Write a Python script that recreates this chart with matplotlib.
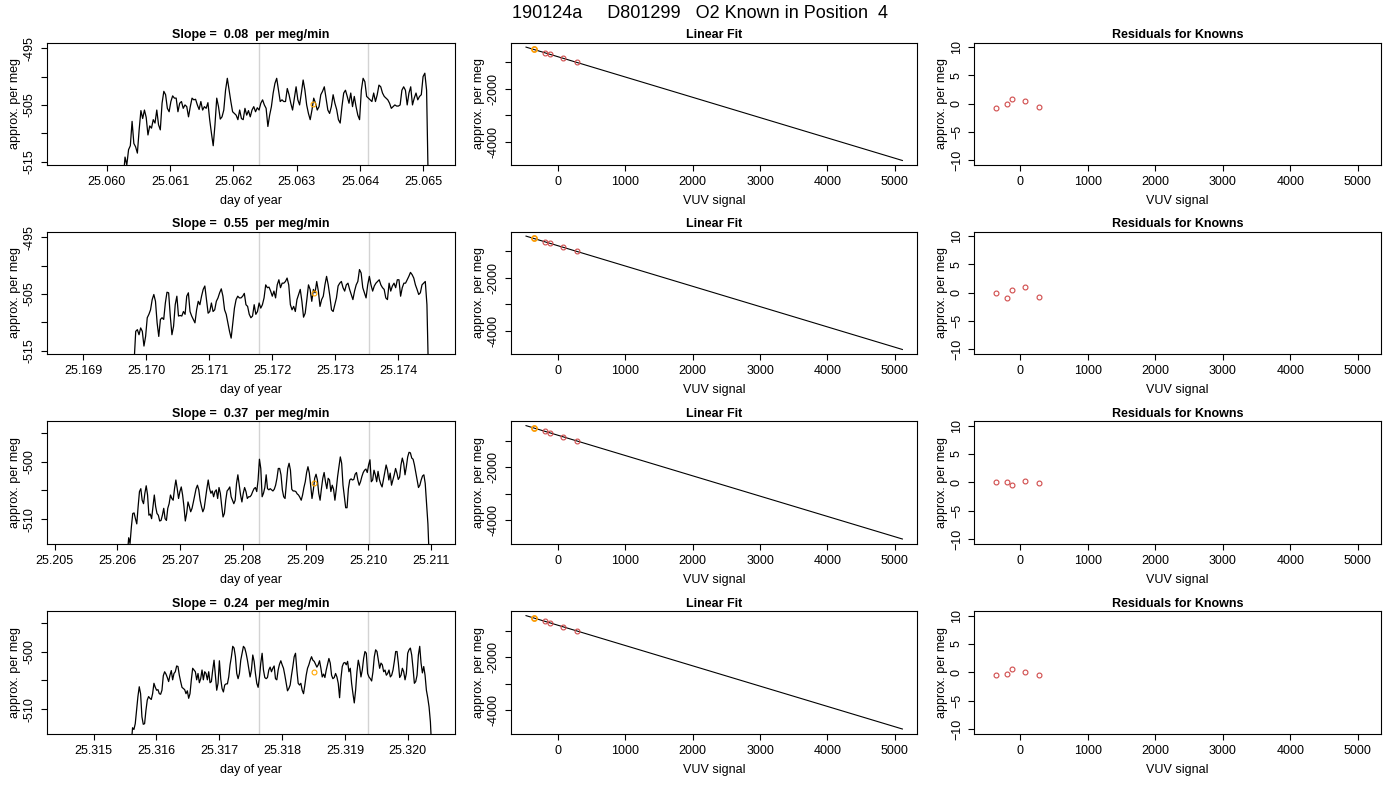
import numpy as np
import matplotlib
matplotlib.use("Agg")
import matplotlib.pyplot as plt

plt.rcParams['font.family'] = ['Liberation Sans', 'DejaVu Sans']
plt.rcParams['font.size'] = 9

main_title = "190124a     D801299   O2 Known in Position  4"
slopes = ["0.08", "0.55", "0.37", "0.24"]

# time series (approx. per meg)
ts1 = [-518.0, -514.2, -515.6, -512.9, -512.2, -507.9, -511.8, -512.4, -513.5, -509.4,
       -506.0, -507.4, -505.9, -507.2, -510.3, -508.7, -509.1, -507.6, -508.2, -505.9,
       -508.5, -509.4, -504.7, -502.6, -503.2, -505.6, -506.2, -504.4, -503.4, -503.8,
       -503.8, -506.2, -504.7, -504.4, -505.6, -505.0, -505.3, -507.1, -505.3, -503.8,
       -504.1, -504.0, -505.0, -505.8, -504.4, -505.9, -505.3, -505.6, -504.6, -507.6,
       -510.0, -512.2, -508.5, -503.8, -505.3, -507.5, -507.1, -505.9, -502.4, -500.3,
       -502.4, -504.4, -506.2, -506.5, -506.8, -507.6, -505.9, -507.4, -507.6, -505.6,
       -506.8, -506.0, -507.1, -505.9, -505.3, -506.2, -505.5, -505.9, -504.7, -504.1,
       -505.0, -505.6, -508.8, -506.8, -505.3, -502.9, -501.2, -500.3, -502.4, -504.4,
       -504.1, -504.4, -504.4, -502.1, -503.2, -504.7, -505.9, -503.8, -501.8, -504.1,
       -505.0, -502.9, -500.6, -502.4, -505.0, -506.5, -507.6, -505.9, -503.8, -504.7,
       -505.9, -505.3, -503.2, -502.6, -501.8, -503.8, -505.9, -506.5, -505.3, -503.2,
       -504.7, -505.8, -507.6, -508.2, -505.3, -502.9, -502.4, -503.5, -504.7, -502.9,
       -505.3, -503.5, -505.3, -506.8, -507.6, -502.4, -500.3, -500.9, -503.5, -503.8,
       -504.1, -504.4, -502.9, -504.4, -503.2, -501.5, -501.8, -502.9, -503.5, -503.8,
       -504.1, -504.7, -505.6, -505.3, -505.0, -505.2, -505.2, -505.0, -502.4, -501.8,
       -502.4, -505.0, -502.9, -501.8, -505.0, -503.8, -502.9, -504.1, -503.5, -503.2,
       -500.0, -499.4, -502.4, -520.0]

ts2 = [-517.0, -511.6, -511.3, -512.2, -511.0, -511.6, -514.2, -512.5, -509.2, -508.6,
       -507.8, -506.0, -505.1, -506.3, -510.1, -512.5, -509.5, -509.2, -509.5, -506.6,
       -504.7, -504.8, -508.9, -512.2, -510.7, -506.9, -505.4, -508.9, -508.8, -508.9,
       -508.1, -508.6, -505.4, -504.8, -508.1, -508.9, -509.5, -510.1, -507.8, -506.3,
       -506.9, -505.4, -504.2, -503.6, -506.0, -508.4, -508.1, -506.6, -508.1, -507.8,
       -506.3, -505.7, -504.8, -504.1, -505.4, -507.8, -508.6, -510.1, -511.6, -512.8,
       -510.1, -507.5, -506.0, -505.4, -505.7, -505.7, -505.4, -504.9, -506.9, -507.2,
       -508.6, -509.2, -508.9, -506.9, -508.6, -508.1, -506.6, -507.5, -506.9, -505.7,
       -503.4, -503.9, -503.8, -504.5, -505.4, -504.5, -505.7, -503.4, -502.5, -503.9,
       -503.1, -503.1, -502.8, -502.2, -503.4, -506.9, -507.8, -507.2, -508.1, -506.0,
       -505.1, -504.2, -506.3, -509.1, -508.4, -506.0, -503.4, -504.2, -506.3, -504.2,
       -504.8, -502.8, -504.5, -507.2, -506.0, -505.4, -503.4, -501.9, -503.4, -505.4,
       -507.8, -508.1, -506.9, -505.7, -503.6, -503.1, -502.8, -503.9, -504.5, -503.4,
       -503.1, -504.2, -505.1, -506.0, -504.5, -503.4, -502.8, -500.7, -501.3, -503.9,
       -504.8, -505.7, -503.4, -501.9, -503.4, -504.5, -503.6, -503.1, -502.8, -502.5,
       -503.4, -503.9, -504.2, -505.7, -506.0, -503.1, -504.5, -503.6, -503.1, -503.9,
       -502.5, -502.5, -505.4, -503.9, -503.1, -503.1, -502.5, -501.9, -501.2, -501.6,
       -502.2, -503.4, -504.2, -505.1, -504.8, -503.4, -503.1, -502.8, -506.9, -520.0]

ts3 = [-516.0, -513.2, -514.2, -511.3, -509.0, -508.9, -509.9, -510.8, -507.8, -505.2,
       -504.7, -506.7, -507.3, -505.5, -504.2, -505.8, -509.3, -509.1, -509.9, -507.8,
       -505.8, -507.8, -509.0, -509.3, -510.3, -510.2, -509.3, -508.1, -509.9, -510.2,
       -508.1, -507.3, -505.8, -506.4, -506.7, -504.7, -503.2, -504.7, -506.4, -505.2,
       -504.4, -505.8, -507.8, -510.3, -509.0, -507.0, -507.8, -508.7, -508.1, -507.0,
       -505.8, -504.7, -504.1, -504.9, -506.7, -507.8, -508.7, -508.1, -506.4, -504.7,
       -503.2, -504.7, -505.5, -505.1, -506.1, -505.2, -504.9, -506.4, -504.5, -505.5,
       -507.7, -509.6, -509.0, -506.7, -505.1, -504.8, -504.4, -506.1, -506.7, -507.3,
       -506.7, -503.8, -502.3, -504.1, -505.8, -507.0, -505.5, -504.5, -505.2, -506.4,
       -506.1, -506.1, -505.8, -505.2, -504.7, -504.5, -505.2, -503.2, -499.6, -501.2,
       -506.1, -505.5, -504.5, -502.3, -504.7, -504.9, -504.7, -504.9, -505.1, -504.8,
       -504.1, -502.9, -501.2, -501.2, -502.3, -504.9, -506.1, -506.4, -503.8, -501.2,
       -500.3, -501.5, -504.8, -505.1, -505.1, -505.2, -505.6, -505.8, -506.2, -506.7,
       -505.8, -504.5, -503.5, -501.9, -500.9, -502.0, -504.1, -506.4, -504.9, -502.9,
       -502.2, -503.2, -505.5, -506.7, -504.7, -502.9, -501.9, -503.5, -504.7, -502.9,
       -503.2, -505.2, -504.1, -504.8, -506.7, -504.8, -502.6, -500.9, -499.2, -500.3,
       -504.1, -506.1, -508.0, -508.0, -504.7, -503.2, -503.0, -503.2, -503.1, -502.2,
       -501.9, -503.2, -504.1, -503.5, -502.6, -501.9, -501.5, -501.3, -501.9, -500.6,
       -499.7, -503.5, -503.2, -501.5, -502.3, -503.5, -501.7, -503.1, -503.9, -504.4,
       -503.1, -501.7, -500.6, -501.5, -503.2, -502.0, -504.1, -503.2, -502.3, -501.2,
       -502.0, -503.1, -502.7, -500.6, -499.4, -500.3, -502.3, -500.9, -499.2, -498.4,
       -498.5, -499.4, -499.6, -500.6, -501.9, -503.2, -504.5, -504.1, -503.2, -502.5,
       -502.3, -503.8, -507.3, -510.8, -517.0]

ts4 = [-516.0, -513.2, -513.5, -512.5, -510.2, -507.8, -506.1, -507.3, -511.3, -512.6,
       -512.5, -510.2, -508.4, -507.8, -508.1, -508.3, -507.3, -505.5, -506.2, -506.7,
       -506.6, -507.3, -507.4, -506.7, -504.2, -503.5, -503.9, -504.5, -505.2, -504.1,
       -503.3, -504.9, -503.8, -503.5, -502.5, -502.6, -504.1, -505.2, -506.2, -506.4,
       -506.6, -507.3, -506.8, -508.1, -507.3, -504.9, -502.9, -503.2, -503.5, -504.9,
       -503.8, -505.4, -504.7, -503.2, -504.9, -503.5, -503.8, -504.9, -503.5, -505.4,
       -505.2, -503.2, -501.5, -504.1, -506.7, -505.5, -501.6, -504.7, -506.4, -507.0,
       -505.8, -505.6, -505.6, -504.4, -502.3, -500.9, -499.1, -499.4, -500.9, -503.8,
       -504.7, -503.8, -501.5, -500.3, -499.1, -499.4, -500.3, -501.5, -502.9, -504.4,
       -503.2, -500.6, -501.7, -503.8, -505.5, -506.2, -504.4, -502.0, -500.3, -503.2,
       -504.5, -504.7, -504.5, -503.2, -502.7, -503.5, -502.9, -502.5, -504.7, -504.9,
       -503.2, -502.2, -501.6, -502.3, -502.9, -504.1, -505.5, -506.8, -506.4, -505.8,
       -504.1, -502.6, -500.9, -500.3, -503.2, -505.5, -505.8, -505.5, -506.7, -507.3,
       -505.8, -504.1, -502.9, -502.3, -501.5, -500.9, -501.5, -501.7, -502.2, -502.7,
       -502.3, -501.6, -502.9, -504.4, -503.9, -504.5, -503.2, -502.2, -501.2, -502.0,
       -504.1, -504.7, -504.5, -503.8, -504.4, -505.5, -508.0, -504.7, -502.6, -502.0,
       -501.9, -502.3, -501.7, -503.5, -502.9, -505.5, -507.3, -508.9, -506.7, -503.5,
       -501.5, -502.6, -504.4, -503.2, -501.2, -500.0, -500.3, -503.8, -504.4, -504.7,
       -505.1, -503.5, -500.9, -499.7, -500.0, -501.5, -502.9, -502.0, -502.3, -503.5,
       -503.2, -504.1, -503.8, -503.2, -504.4, -504.1, -503.2, -501.7, -500.0, -500.0,
       -502.0, -504.5, -504.1, -502.9, -503.5, -504.9, -503.8, -500.3, -499.7, -499.4,
       -500.6, -502.9, -505.5, -505.2, -504.1, -500.6, -499.1, -502.0, -503.7, -502.6,
       -504.1, -506.7, -508.0, -509.6, -512.2, -517.0]

ts_values = [ts1, ts2, ts3, ts4]
ts_start = [25.06026, 25.16981, 25.20616, 25.31560]
ts_end = [25.06508, 25.17448, 25.21097, 25.32038]
ts_xlim = [(25.059055, 25.065501), (25.168429, 25.174899),
           (25.20488, 25.21138), (25.31426, 25.32075)]
ts_xticks = [[25.060, 25.061, 25.062, 25.063, 25.064, 25.065],
             [25.169, 25.170, 25.171, 25.172, 25.173, 25.174],
             [25.205, 25.206, 25.207, 25.208, 25.209, 25.210, 25.211],
             [25.315, 25.316, 25.317, 25.318, 25.319, 25.320]]
ts_ylim = [(-515.6, -494.0), (-515.6, -494.0), (-514.2, -493.0), (-514.2, -493.0)]
ts_yticks = [[-495, -500, -505, -510, -515], [-495, -500, -505, -510, -515],
             [-495, -500, -505, -510], [-495, -500, -505, -510]]
ts_ylabels = [["-495", "", "-505", "", "-515"], ["-495", "", "-505", "", "-515"],
              ["", "-500", "", "-510"], ["", "-500", "", "-510"]]
window_marks = [(25.062397, 25.064131), (25.171783, 25.173529),
                (25.20826, 25.21001), (25.31763, 25.31937)]
sample_time = [25.063262, 25.172656, 25.20913, 25.31850]
sample_permeg = [-504.8, -504.8, -503.7, -503.5]

# linear fit of the knowns
known_vuv = [-360, -197, -113, 69, 281]
known_permeg = [-514, -639, -703, -843, -1006]
fit_slope = -0.767
fit_intercept = -790
fit_vuv_range = [-474, 5114]
sample_vuv = -356
residuals = [[-0.76, 0.0, 0.9, 0.5, -0.65],
             [-0.1, -0.9, 0.5, 1.1, -0.7],
             [0.0, 0.0, -0.5, 0.3, -0.2],
             [-0.4, -0.3, 0.5, 0.1, -0.5]]

red = '#d04a4a'
orange = '#ffa500'


def r_style(ax):
    for s in ax.spines.values():
        s.set_color('black')
        s.set_linewidth(0.8)
    ax.tick_params(direction='out', length=4, width=0.8, pad=4, labelsize=9)
    ax.tick_params(axis='y', labelrotation=90, pad=4)
    for lbl in ax.get_yticklabels():
        lbl.set_va('center')


fig = plt.figure(figsize=(14, 8), dpi=100)
fig.suptitle(main_title, fontsize=13, y=0.994, va='top')

col_left = [47 / 1400, 511 / 1400, 974 / 1400]
col_width = [408 / 1400, 406 / 1400, 407 / 1400]
row_bottom = [0.79375, 0.5575, 0.3206, 0.0831]
row_height = 0.153

for r in range(4):
    # time series
    ax = fig.add_axes([col_left[0], row_bottom[r], col_width[0], row_height])
    vals = ts_values[r]
    t = np.linspace(ts_start[r], ts_end[r], len(vals))
    for w in window_marks[r]:
        ax.axvline(w, color='#d3d3d3', lw=1)
    ax.plot(t, vals, color='black', lw=0.9)
    ax.plot(sample_time[r], sample_permeg[r], 'o', mfc='none', mec=orange, ms=3.5, mew=0.8)
    ax.set_xlim(*ts_xlim[r])
    ax.set_ylim(*ts_ylim[r])
    ax.set_xticks(ts_xticks[r])
    ax.set_xticklabels(["%.3f" % v for v in ts_xticks[r]])
    ax.set_yticks(ts_yticks[r])
    ax.set_yticklabels(ts_ylabels[r])
    ax.set_title("Slope =  %s  per meg/min" % slopes[r], fontsize=9, fontweight='bold', pad=3)
    ax.set_xlabel("day of year", labelpad=5)
    ax.set_ylabel("approx. per meg", labelpad=2)
    r_style(ax)

    # linear fit
    ax = fig.add_axes([col_left[1], row_bottom[r], col_width[1], row_height])
    fx = np.array(fit_vuv_range)
    ax.plot(fx, fit_intercept + fit_slope * fx, color='black', lw=0.8)
    ax.plot(known_vuv, known_permeg, 'o', mfc='none', mec=red, ms=3.5, mew=0.8)
    ax.plot(sample_vuv, sample_permeg[r], 'o', mfc='none', mec=orange, ms=3.8, mew=1.1)
    ax.set_xlim(-697, 5331)
    ax.set_ylim(-4883, -256)
    ax.set_xticks([0, 1000, 2000, 3000, 4000, 5000])
    ax.set_yticks([-1000, -2000, -3000, -4000])
    ax.set_yticklabels(["", "-2000", "", "-4000"])
    ax.set_title("Linear Fit", fontsize=9, fontweight='bold', pad=3)
    ax.set_xlabel("VUV signal", labelpad=5)
    ax.set_ylabel("approx. per meg", labelpad=2)
    r_style(ax)

    # residuals
    ax = fig.add_axes([col_left[2], row_bottom[r], col_width[2], row_height])
    ax.plot(known_vuv, residuals[r], 'o', mfc='none', mec=red, ms=3.5, mew=0.8)
    ax.set_xlim(-681, 5343)
    ax.set_ylim(-10.8, 10.8)
    ax.set_xticks([0, 1000, 2000, 3000, 4000, 5000])
    ax.set_yticks([-10, -5, 0, 5, 10])
    ax.set_title("Residuals for Knowns", fontsize=9, fontweight='bold', pad=3)
    ax.set_xlabel("VUV signal", labelpad=5)
    ax.set_ylabel("approx. per meg", labelpad=2)
    r_style(ax)

fig.savefig("out.png", dpi=100)
